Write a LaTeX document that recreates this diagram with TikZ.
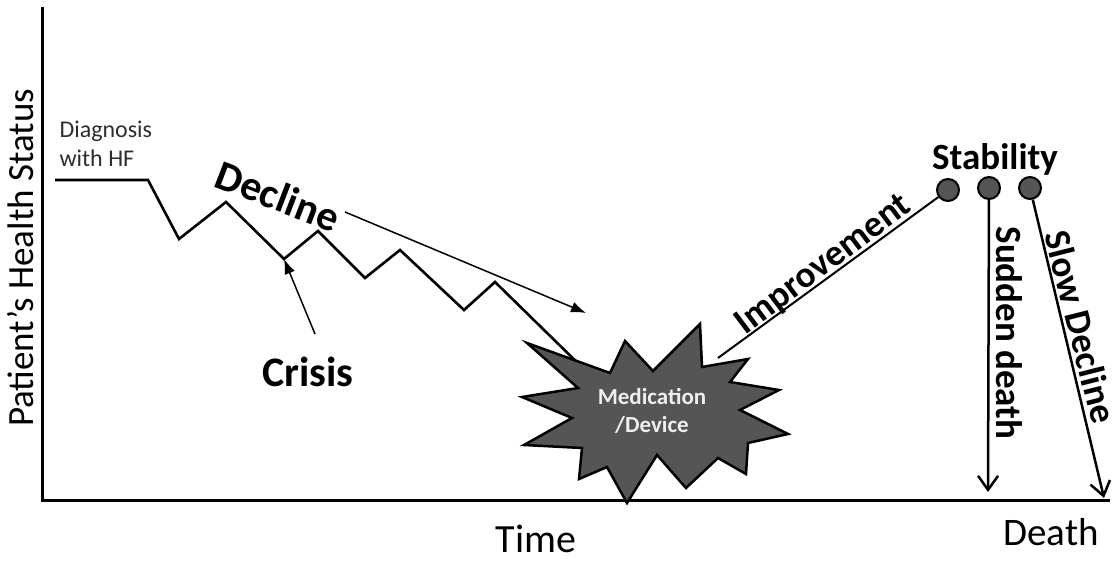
\documentclass[tikz,border=0pt]{standalone}
\usepackage{fontspec}
\setmainfont{Carlito}
\usetikzlibrary{arrows.meta}
\definecolor{burst}{HTML}{555555}
\definecolor{darktext}{HTML}{2E2E2E}
\definecolor{lighttext}{HTML}{EEEEEE}
\begin{document}
\begin{tikzpicture}[x=1pt,y=-1pt,
  axisline/.style={line width=3pt},
  trend/.style={line width=2.6pt, line join=miter},
  pointer/.style={line width=1.5pt, -{Latex[length=15pt,width=11pt]}},
  fall/.style={line width=2.5pt, -{Straight Barb[length=14pt,width=20pt,line width=2.5pt]}},
  statedot/.style={circle, draw=black, fill=burst, line width=2pt, minimum size=22pt, inner sep=0pt},
  bigbold/.style={font=\fontsize{42}{48}\selectfont\bfseries},
  midbold/.style={font=\fontsize{37}{44}\selectfont\bfseries},
  axistext/.style={font=\fontsize{40}{46}\selectfont},
  smalltext/.style={font=\fontsize{24}{29}\selectfont, text=darktext, align=left},
  bursttext/.style={font=\fontsize{23}{28}\selectfont\bfseries, text=lighttext, align=center}
]
\useasboundingbox (0,0) rectangle (1118,561);

% axes
\coordinate (ytop) at (42,7);
\coordinate (origin) at (42,500);
\coordinate (xend) at (1110,500);
\draw[axisline] (ytop) -- (origin) -- (xend);

\node[axistext, font=\fontsize{37}{44}\selectfont, rotate=90] (ylab) at (21,258) {Patient’s Health Status};
\node[axistext] (time) at (536,539) {Time};
\node[axistext, font=\fontsize{39}{46}\selectfont] (death) at (1051,532) {Death};

% health trajectory from diagnosis down to the intervention
\coordinate (d0) at (55,180);
\coordinate (d1) at (148,180);
\coordinate (d2) at (179,239);
\coordinate (d3) at (226,202);
\coordinate (d4) at (284,259);
\coordinate (d5) at (318,231);
\coordinate (d6) at (365,278);
\coordinate (d7) at (400,250);
\coordinate (d8) at (464,310);
\coordinate (d9) at (495,282);
\coordinate (d10) at (590,375);
\draw[trend] (d0) -- (d1) -- (d2) -- (d3) -- (d4) -- (d5) -- (d6) -- (d7) -- (d8) -- (d9) -- (d10);

\node[smalltext, anchor=north west] (diag) at (56,117) {Diagnosis\\with HF};

% intervention burst
\draw[line width=2.5pt, line join=miter, fill=burst]
  (527,343) -- (610,373) -- (625,341) -- (653,371) -- (700,324) -- (702,367)
  -- (748,359) -- (730,382) -- (779,390) -- (740,410) -- (788,434) -- (748,443)
  -- (746,474) -- (718,458) -- (686,488) -- (657,455) -- (627,503) -- (607,467)
  -- (579,479) -- (582,448) -- (524,445) -- (572,418) -- (522,397) -- (578,388)
  -- cycle;
\node[bursttext] (med) at (652,411) {Medication\\/Device};

% labels of the declining phase
\node[bigbold, rotate=-21] (declinelab) at (278,196) {Decline};
\coordinate (declinefrom) at (345,212);
\coordinate (declineto) at (586,313);
\draw[pointer] (declinefrom) -- (declineto);

\node[bigbold] (crisis) at (308,372) {Crisis};
\coordinate (crisisfrom) at (315,334);
\draw[pointer] (crisisfrom) -- (d4);

% stability states
\node[statedot] (s1) at (948,190) {};
\node[statedot] (s2) at (989,188) {};
\node[statedot] (s3) at (1030,188) {};
\node[midbold] (stab) at (995,159) {Stability};

\coordinate (impfrom) at (718,358);
\draw[line width=2pt] (impfrom) -- (s1);
\node[midbold, rotate=37] (implab) at (824,265) {Improvement};

\coordinate (suddenend) at (988,492);
\draw[fall] (s2) -- (suddenend);
\node[midbold, rotate=-90] (suddenlab) at (1009,333) {Sudden death};

\coordinate (slowend) at (1104,498);
\draw[fall] (s3) -- (slowend);
\node[midbold, rotate=-75.8] (slowlab) at (1081,327) {Slow Decline};
\end{tikzpicture}
\end{document}
